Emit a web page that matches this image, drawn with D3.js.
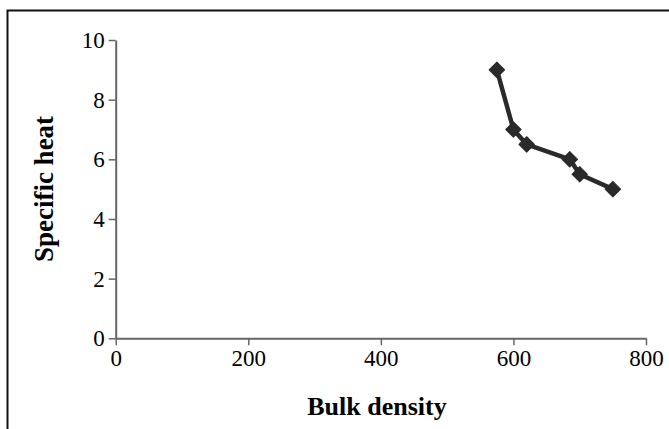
<!DOCTYPE html>
<html>
<head>
<meta charset="utf-8">
<script src="https://cdn.jsdelivr.net/npm/d3@7"></script>
<style>
  body { margin: 0; background: #fff; }
  svg text { font-family: 'Liberation Serif', 'Times New Roman', serif; }
</style>
</head>
<body>
<svg class="canvas" width="669" height="429"></svg>
<script>
'use strict'

const bulkDensity = [575, 600, 620, 685, 700, 750]
const specificHeat = [9, 7, 6.5, 6, 5.5, 5]
const xTicks = [0, 200, 400, 600, 800]
const yTicks = [0, 2, 4, 6, 8, 10]

const points = bulkDensity.map((x, i) => ({ x, y: specificHeat[i] }))

const svg = d3.select('.canvas')

// Outer frame (runs off the right and bottom edges).
svg.append('rect')
  .attr('x', 7.5).attr('y', 10.5)
  .attr('width', 680).attr('height', 440)
  .attr('fill', 'none').attr('stroke', '#111').attr('stroke-width', 2)

const xScale = d3.scaleLinear().domain([0, 800]).range([115.7, 646])
const yScale = d3.scaleLinear().domain([0, 10]).range([338.3, 40])

// Axes.
const xAxis = svg.append('g')
  .attr('transform', `translate(0, ${yScale(0)})`)
  .call(d3.axisBottom(xScale).tickValues(xTicks).tickSize(7).tickSizeOuter(0).tickPadding(3))
const yAxis = svg.append('g')
  .attr('transform', `translate(${xScale(0)}, 0)`)
  .call(d3.axisLeft(yScale).tickValues(yTicks).tickSize(7).tickSizeOuter(0).tickPadding(4))

;[xAxis, yAxis].forEach(axis => {
  axis.attr('font-size', null).attr('font-family', null)
  axis.select('.domain').attr('stroke', '#666').attr('stroke-width', 2)
  axis.selectAll('.tick line').attr('stroke', '#666').attr('stroke-width', 1.5)
  axis.selectAll('.tick text')
    .attr('fill', '#000')
    .style('font-size', '23px')
})
xAxis.selectAll('.tick text').attr('dy', '0.78em')

// Axis titles.
svg.append('text')
  .attr('x', 377).attr('y', 415)
  .attr('text-anchor', 'middle')
  .style('font-size', '26px').style('font-weight', 'bold')
  .text('Bulk density')
svg.append('text')
  .attr('transform', 'translate(53, 189) rotate(-90)')
  .attr('text-anchor', 'middle')
  .style('font-size', '27px').style('font-weight', 'bold')
  .text('Specific heat')

// Series line.
const line = d3.line().x(d => xScale(d.x)).y(d => yScale(d.y))
svg.append('path')
  .datum(points)
  .attr('d', line)
  .attr('fill', 'none')
  .attr('stroke', '#2a2a2a')
  .attr('stroke-width', 4.5)
  .attr('stroke-linejoin', 'round')

// Diamond markers.
svg.selectAll('.marker')
  .data(points)
  .enter()
  .append('path')
  .attr('class', 'marker')
  .attr('transform', d => `translate(${xScale(d.x)}, ${yScale(d.y)}) rotate(45)`)
  .attr('d', d3.symbol().type(d3.symbolSquare).size(120))
  .attr('fill', '#2a2a2a')
  .attr('stroke', '#2a2a2a')
  .attr('stroke-width', 1)
  .attr('stroke-linejoin', 'round')
</script>
</body>
</html>
